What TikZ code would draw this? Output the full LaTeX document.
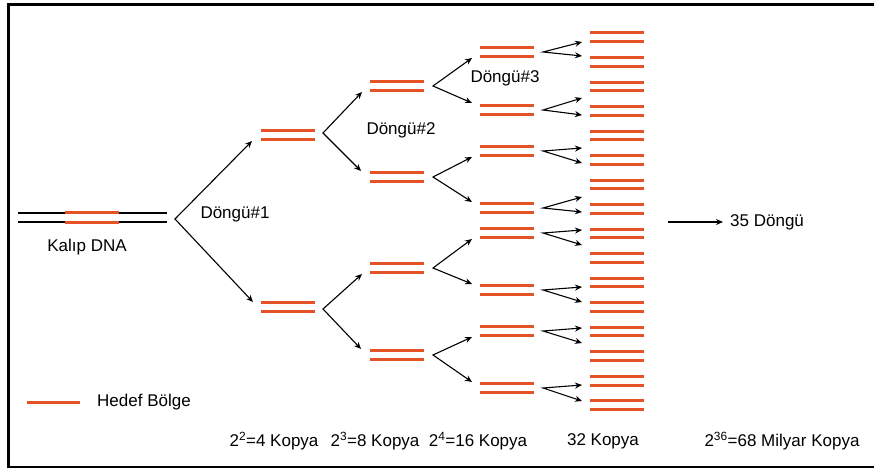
\documentclass[tikz,border=0pt]{standalone}
\usepackage{fontspec}
\setmainfont{Liberation Sans}
\usetikzlibrary{arrows.meta}
\definecolor{target}{RGB}{228,82,38}
\tikzset{
  strand/.style={draw=black, line width=1.3pt},
  seg/.style={draw=target, line width=3pt},
  fork/.style={draw=black, line width=1.1pt, line join=miter,
    {Stealth[length=7pt,width=6pt]}-{Stealth[length=7pt,width=6pt]}},
  arr/.style={draw=black, line width=1.1pt, -{Stealth[length=7pt,width=6pt]}},
  lbl/.style={font=\fontsize{17}{20}\selectfont, inner sep=0pt},
}
% one copy of the target region: two parallel strands, left end at (#2,#3)
\newcommand\dnacopy[3]{%
  \coordinate (#1) at (#2,#3);
  \draw[seg] (#2,#3-4.3) -- (#2+54,#3-4.3);
  \draw[seg] (#2,#3+4.3) -- (#2+54,#3+4.3);
}
\begin{document}
\begin{tikzpicture}[x=1pt,y=-1pt]
\useasboundingbox (0,0) rectangle (874,470);
\fill[white] (0,0) rectangle (874,470);
\draw[line width=2.6pt] (8.5,4.5) rectangle (878,467);

% template strand with the target region
\draw[strand] (18,213) -- (167,213);
\draw[strand] (18,222) -- (167,222);
\draw[seg] (65,213) -- (119,213);
\draw[seg] (65,222) -- (119,222);
\node[lbl] (tmpl) at (87,247) {Kalıp DNA};

% cycle 1
\coordinate (v0) at (175,219);
\coordinate (t0a) at (252,141);
\coordinate (t0b) at (253,302);
\draw[fork] (t0a) -- (v0) -- (t0b);
\dnacopy{a1}{261}{135}
\dnacopy{a2}{261}{307}
\node[lbl] (cyc1) at (235,214) {Döngü\#1};

% cycle 2
\coordinate (v1a) at (323,133);
\coordinate (v1b) at (323,309);
\coordinate (t1a) at (362,92);
\coordinate (t1b) at (361,171);
\coordinate (t1c) at (362,274);
\coordinate (t1d) at (361,349);
\draw[fork] (t1a) -- (v1a) -- (t1b);
\draw[fork] (t1c) -- (v1b) -- (t1d);
\dnacopy{b1}{370}{86}
\dnacopy{b2}{370}{177}
\dnacopy{b3}{370}{268}
\dnacopy{b4}{370}{355}
\node[lbl] (cyc2) at (401,130) {Döngü\#2};

% cycle 3
\foreach \m/\ta/\tb [count=\i] in {86/58/103, 177/157/202, 268/239/284, 355/337/382}{
  \coordinate (v2-\i) at (433,\m);
  \coordinate (t2a-\i) at (472,\ta);
  \coordinate (t2b-\i) at (472,\tb);
  \draw[fork] (t2a-\i) -- (v2-\i) -- (t2b-\i);
}
\foreach \m [count=\i] in {52,110,151,208,233,290,331,388}{
  \dnacopy{c\i}{480}{\m}
}
\node[lbl] (cyc3) at (505,78) {Döngü\#3};

% cycle 4
\foreach \m/\ta/\tb [count=\i] in {52/42/56, 110/98/115, 151/148/163, 208/197/212,
                                   233/230/245, 290/287/302, 331/328/343, 388/385/401}{
  \coordinate (v3-\i) at (543,\m);
  \coordinate (t3a-\i) at (582,\ta);
  \coordinate (t3b-\i) at (582,\tb);
  \draw[fork] (t3a-\i) -- (v3-\i) -- (t3b-\i);
}
\foreach \k in {0,...,15}{
  \dnacopy{d\k}{590}{37.3+24.53*\k}
}

% after 35 cycles
\coordinate (e0) at (668,222);
\node[lbl, anchor=west] (cyc35) at (730,222) {35 Döngü};
\draw[arr, shorten >=7pt] (e0) -- (cyc35.west);

% legend
\coordinate (lg0) at (27,402);
\coordinate (lg1) at (80,402);
\draw[seg] (lg0) -- (lg1);
\node[lbl, anchor=west] (legend) at (97,402) {Hedef Bölge};

% copy counts
\node[lbl] (n4)  at (274,441) {2\textsuperscript{2}=4 Kopya};
\node[lbl] (n8)  at (375,441) {2\textsuperscript{3}=8 Kopya};
\node[lbl] (n16) at (478,441) {2\textsuperscript{4}=16 Kopya};
\node[lbl] (n32) at (603,441) {32 Kopya};
\node[lbl] (nbig) at (782,441) {2\textsuperscript{36}=68 Milyar Kopya};
\end{tikzpicture}
\end{document}
